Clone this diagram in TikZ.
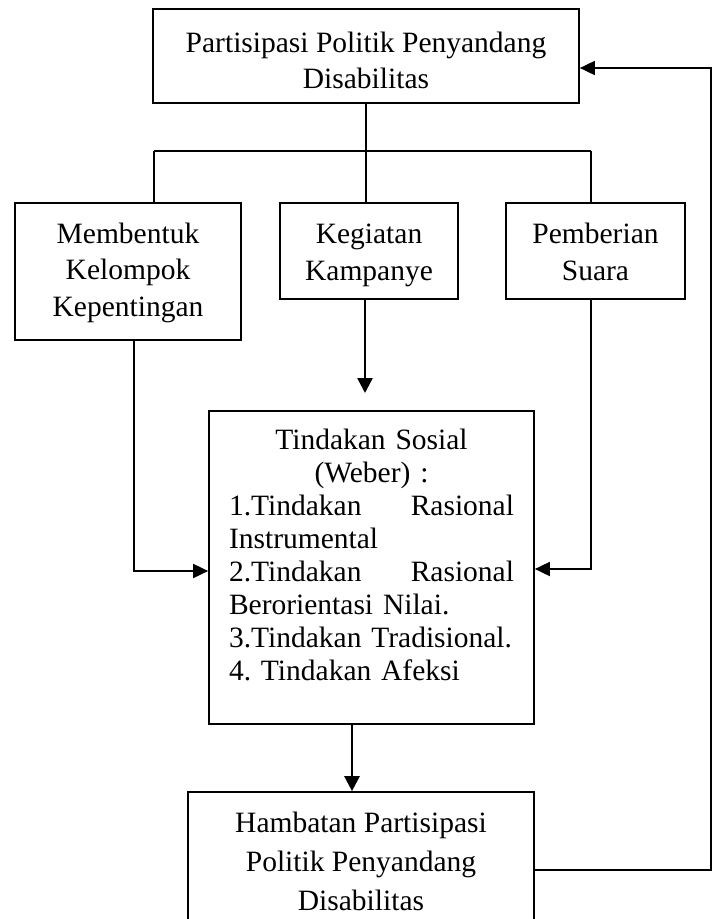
\documentclass[tikz,border=0pt]{standalone}
\usepackage{fontspec}
\setmainfont{Liberation Serif}
\usetikzlibrary{arrows.meta}
\begin{document}
\frenchspacing
\begin{tikzpicture}[x=1bp,y=-1bp,
  box/.style={draw=black, line width=1.7bp, rectangle, inner sep=0pt},
  txt/.style={inner sep=0pt, anchor=base, align=center},
  ln/.style={line width=1.8bp},
  arr/.style={line width=1.8bp, -{Triangle[length=15bp,width=14bp]}},
  arrthick/.style={line width=2.6bp, -{Triangle[length=15bp,width=15bp]}}]
\useasboundingbox (0,0) rectangle (718,919);
\fill[white] (0,0) rectangle (718,919);
\clip (0,0) rectangle (718,919);
% boxes
\node[box, minimum width=426bp, minimum height=94bp] (top) at (366,56) {};
\node[box, minimum width=226bp, minimum height=137bp] (b1) at (128,271.5) {};
\node[box, minimum width=178bp, minimum height=96bp] (b2) at (369,251) {};
\node[box, minimum width=179bp, minimum height=96bp] (b3) at (595.5,251) {};
\node[box, minimum width=325bp, minimum height=313bp] (main) at (371.5,567.5) {};
\node[box, minimum width=346bp, minimum height=143bp] (bot) at (361,863.5) {};
% texts
\node[txt, font=\fontsize{29.5bp}{36.5bp}\selectfont] (toptext) at (366,88.5) {Partisipasi Politik Penyandang\\Disabilitas};
\node[txt, font=\fontsize{29.5bp}{36.7bp}\selectfont] (b1text) at (128,316.5) {Membentuk\\Kelompok\\Kepentingan};
\node[txt, font=\fontsize{29.5bp}{36.7bp}\selectfont] (b2text) at (369,280) {Kegiatan\\Kampanye};
\node[txt, font=\fontsize{29.5bp}{36.7bp}\selectfont] (b3text) at (595.5,280) {Pemberian\\Suara};
\node[txt, align=left, text width=285bp, font=\fontsize{29.5bp}{33bp}\selectfont] (maintext) at (371.5,449)
  {\leavevmode\hbox to 285bp{\hfil Tindakan Sosial\hfil}\\
   \leavevmode\hbox to 285bp{\hfil (Weber) :\hfil}\\
   \leavevmode\hbox to 285bp{1.Tindakan\hfill Rasional}\\
   Instrumental\\
   \leavevmode\hbox to 285bp{2.Tindakan\hfill Rasional}\\
   Berorientasi Nilai.\\
   3.Tindakan Tradisional.\\
   4. Tindakan Afeksi};
\node[txt, font=\fontsize{29.5bp}{39bp}\selectfont] (bottext) at (361,910) {Hambatan Partisipasi\\Politik Penyandang\\Disabilitas};
% tree
\coordinate (hub) at (366,151);
\coordinate (hl) at (154,151);
\coordinate (hr) at (591,151);
\draw[ln] (top.south) -- (hub);
\draw[ln] (hl) -- (hr);
\draw[ln] (hl) -- (hl |- b1.north);
\draw[ln] (hub) -- (hub |- b2.north);
\draw[ln] (hr) -- (hr |- b3.north);
% to main box
\coordinate (lc) at (134,571);
\coordinate (rc) at (591,569);
\draw[arr] (lc |- b1.south) -- (lc) -- (lc -| main.west);
\draw[arr] (rc |- b3.south) -- (rc) -- (rc -| main.east);
\coordinate (kt) at (365,393);
\draw[arrthick] (kt |- b2.south) -- (kt);
\coordinate (mc) at (352,724);
\draw[arrthick] (mc |- main.south) -- (mc |- bot.north);
% feedback
\coordinate (fb) at (711,870);
\coordinate (ft) at (711,68);
\draw[arr] (fb -| bot.east) -- (fb) -- (ft) -- (ft -| top.east);
\end{tikzpicture}
\end{document}
